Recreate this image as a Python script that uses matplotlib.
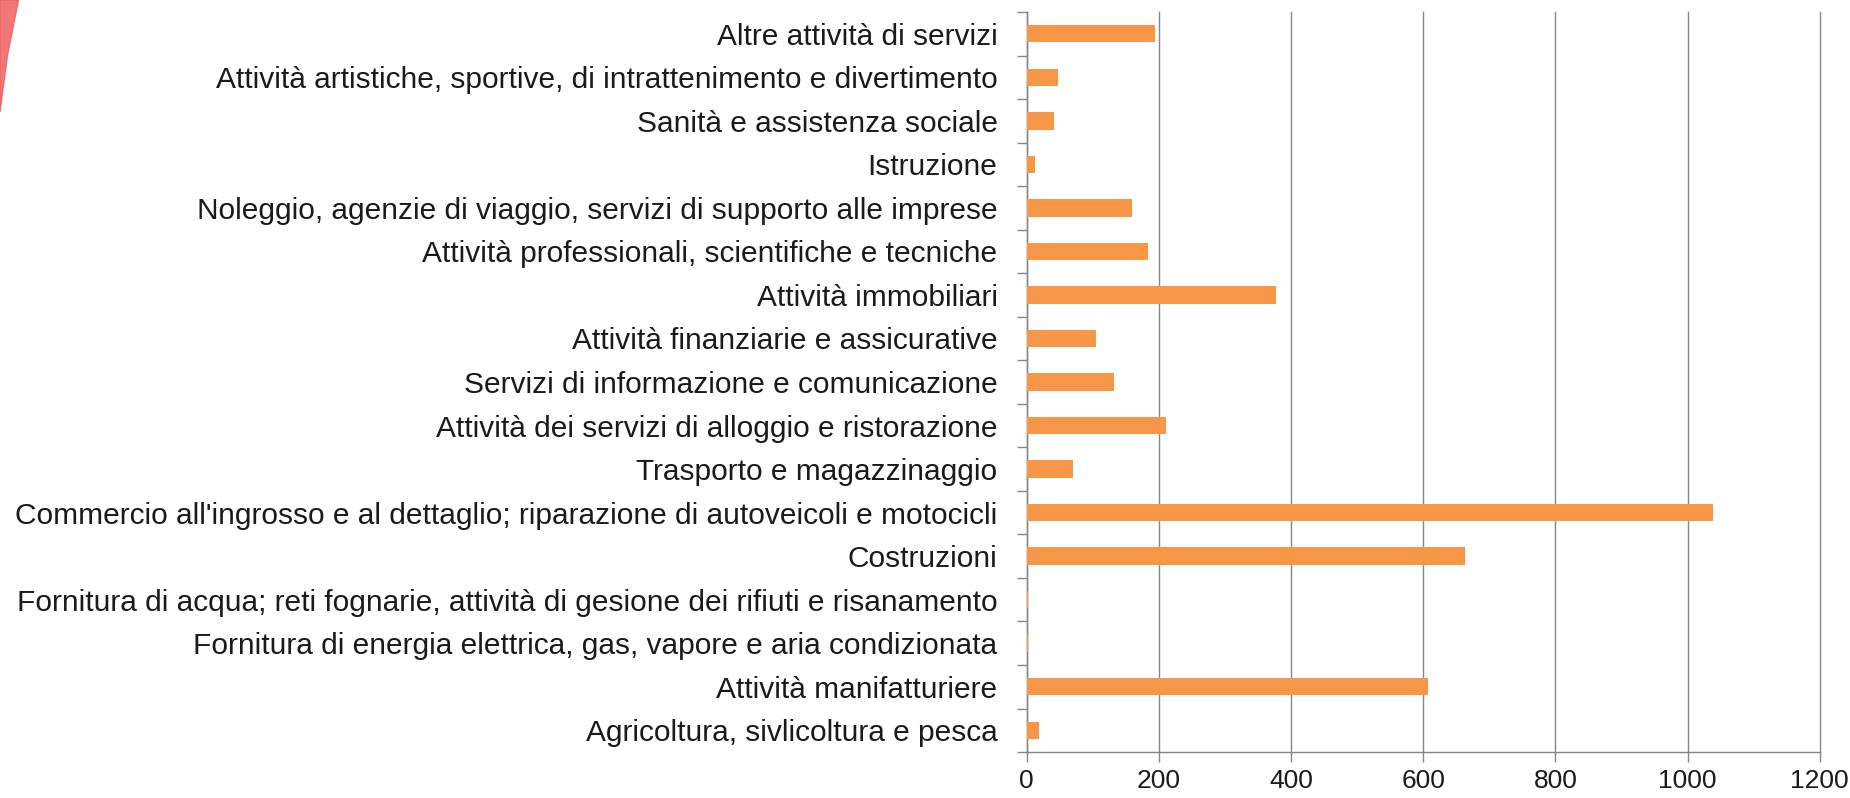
import numpy as np
import matplotlib.pyplot as plt
from matplotlib.patches import Polygon

# categories from bottom to top (as drawn)
categories = [
    "Agricoltura, sivlicoltura e pesca",
    "Attività manifatturiere",
    "Fornitura di energia elettrica, gas, vapore e aria condizionata",
    "Fornitura di acqua; reti fognarie, attività di gesione dei rifiuti e risanamento",
    "Costruzioni",
    "Commercio all'ingrosso e al dettaglio; riparazione di autoveicoli e motocicli",
    "Trasporto e magazzinaggio",
    "Attività dei servizi di alloggio e ristorazione",
    "Servizi di informazione e comunicazione",
    "Attività finanziarie e assicurative",
    "Attività immobiliari",
    "Attività professionali, scientifiche e tecniche",
    "Noleggio, agenzie di viaggio, servizi di supporto alle imprese",
    "Istruzione",
    "Sanità e assistenza sociale",
    "Attività artistiche, sportive, di intrattenimento e divertimento",
    "Altre attività di servizi",
]
values = [18, 607, 2, 2, 664, 1038, 70, 210, 132, 105, 377, 183, 159, 12, 41, 48, 194]
xticks = [0, 200, 400, 600, 800, 1000, 1200]

plt.rcParams['font.family'] = ['Liberation Sans Narrow', 'Liberation Sans', 'DejaVu Sans']

fig = plt.figure(figsize=(18.5, 7.98), dpi=100)
ax = fig.add_axes([0.555, 0.0576, 0.4286, 0.9274])

y = np.arange(len(categories))
ax.barh(y, values, height=0.4, color='#f79646', zorder=3)

ax.set_xlim(0, 1200)
ax.set_ylim(-0.5, len(categories) - 0.5)
ax.set_xticks(xticks)
ax.set_xticklabels([str(t) for t in xticks], fontsize=19, color='#1a1a1a')
ax.set_yticks(y)
ax.set_yticklabels(categories, fontsize=21.5, color='#1a1a1a')
ax.set_yticks(np.arange(-0.5, len(categories), 1), minor=True)
ax.tick_params(axis='y', which='major', length=0, pad=21)
ax.tick_params(axis='y', which='minor', length=7, color='#868686', width=1)
ax.tick_params(axis='x', length=7, color='#868686', width=1, pad=5)

ax.grid(axis='x', color='#868686', linewidth=1, zorder=0)
for gl in ax.get_xgridlines():
    gl.set_clip_on(False)
for s in ['top', 'right']:
    ax.spines[s].set_visible(False)
for s in ['left', 'bottom']:
    ax.spines[s].set_color('#868686')
    ax.spines[s].set_linewidth(1)

# red slide decoration in the top left corner
deco = Polygon([[0, 1.0], [0.010, 1.0], [0.004, 0.93], [0, 0.86]],
               closed=True, transform=fig.transFigure, color='#f06060', alpha=0.85)
fig.patches.append(deco)

fig.savefig('out.png', dpi=100)
